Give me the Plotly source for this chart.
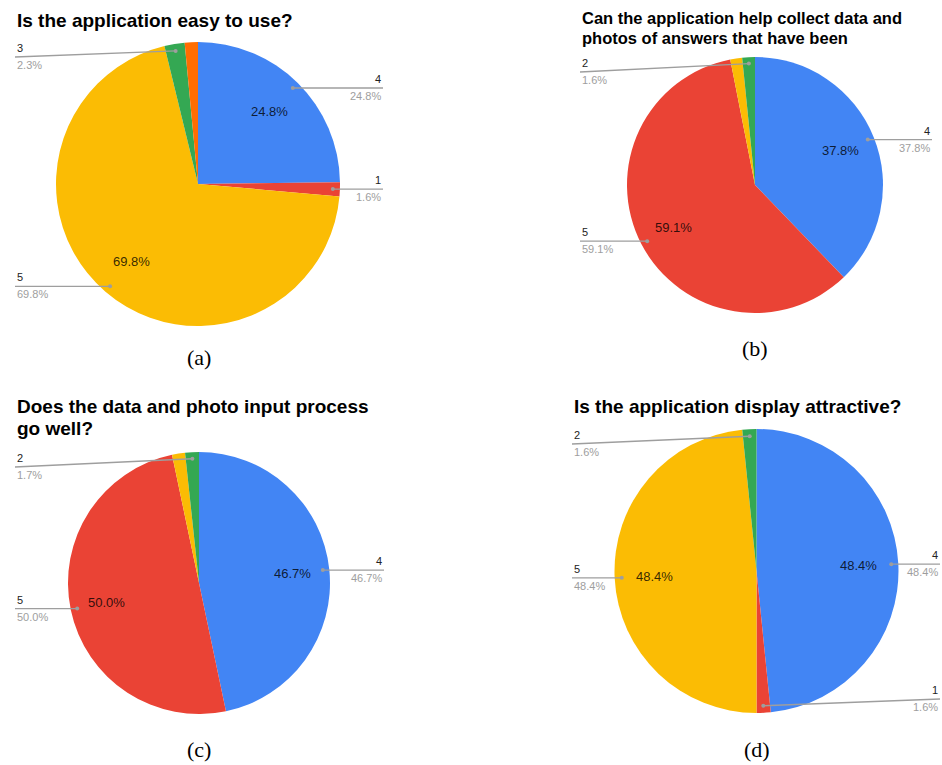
import math
import plotly.graph_objects as go

W, H = 942, 765

BLUE = "#4285F4"
RED = "#EA4335"
YELLOW = "#FBBC04"
GREEN = "#34A853"
ORANGE = "#FF6D01"

# ---------------- data ----------------
title_a = ["Is the application easy to use?"]
labels_a = ["4", "1", "5", "3", "2"]
values_a = [24.8, 1.6, 69.8, 2.3, 1.5]
colors_a = [BLUE, RED, YELLOW, GREEN, ORANGE]
callouts_a = ["4", "1", "5", "3"]

title_b = ["Can the application help collect data and", "photos of answers that have been"]
labels_b = ["4", "5", "3", "2"]
values_b = [37.8, 59.1, 1.5, 1.6]
colors_b = [BLUE, RED, YELLOW, GREEN]
callouts_b = ["4", "5", "2"]

title_c = ["Does the data and photo input process", "go well?"]
labels_c = ["4", "5", "3", "2"]
values_c = [46.7, 50.0, 1.6, 1.7]
colors_c = [BLUE, RED, YELLOW, GREEN]
callouts_c = ["4", "5", "2"]

title_d = ["Is the application display attractive?"]
labels_d = ["4", "1", "5", "2"]
values_d = [48.4, 1.6, 48.4, 1.6]
colors_d = [BLUE, RED, YELLOW, GREEN]
callouts_d = ["4", "1", "5", "2"]

captions = ["(a)", "(b)", "(c)", "(d)"]

# ---------------- layout config (window pixels) ----------------
panels = [
    dict(title=title_a, labels=labels_a, values=values_a, colors=colors_a, callouts=callouts_a,
         cx=198, cy=184, r=142, lx=15, rx=383, tx=15, ty=[20], tsize=19, cap=(199, 357)),
    dict(title=title_b, labels=labels_b, values=values_b, colors=colors_b, callouts=callouts_b,
         cx=755, cy=185, r=128, lx=580, rx=932, tx=580, ty=[17.5, 37.5], tsize=16.5, cap=(755, 349)),
    dict(title=title_c, labels=labels_c, values=values_c, colors=colors_c, callouts=callouts_c,
         cx=199, cy=583, r=131, lx=15, rx=384, tx=15, ty=[406, 428], tsize=19, cap=(199, 749)),
    dict(title=title_d, labels=labels_d, values=values_d, colors=colors_d, callouts=callouts_d,
         cx=756.5, cy=571, r=142, lx=572, rx=940, tx=572, ty=[406], tsize=19, cap=(757, 749)),
]


def px(x):
    return x / W


def py(y):
    return 1 - y / H


fig = go.Figure()
annotations = []
shapes = []

LABEL_FONT = "Liberation Sans, Arial, sans-serif"

for i, p in enumerate(panels):
    cx, cy, r = p["cx"], p["cy"], p["r"]
    fig.add_trace(go.Pie(
        labels=p["labels"], values=p["values"],
        marker=dict(colors=p["colors"], line=dict(width=0)),
        sort=False, direction="clockwise", rotation=0,
        textinfo="none", hoverinfo="label+percent",
        showlegend=False,
        domain=dict(x=[px(cx - r), px(cx + r)], y=[py(cy + r), py(cy - r)]),
    ))

    total = sum(p["values"])
    cum = 0.0
    for lab, v in zip(p["labels"], p["values"]):
        mid = (cum + v / 2) / total * 2 * math.pi
        cum += v
        pct = f"{v / total * 100:.1f}%"
        s, c = math.sin(mid), math.cos(mid)
        # inside percentage
        if v / total >= 0.05:
            ix, iy = cx + 0.72 * r * s, cy - 0.72 * r * c
            annotations.append(dict(x=px(ix), y=py(iy), xref="paper", yref="paper",
                                    text=pct, showarrow=False, xanchor="center", yanchor="middle",
                                    font=dict(family=LABEL_FONT, size=13, color="rgba(0,0,0,0.8)")))
        if lab in p["callouts"]:
            dx, dy = cx + 0.95 * r * s, cy - 0.95 * r * c
            ly = min(max(dy, cy - r + 15), cy + r - 14)
            if s > 0:
                ex, anchor = p["rx"], "right"
            else:
                ex, anchor = p["lx"], "left"
            shapes.append(dict(type="line", xref="paper", yref="paper",
                               x0=px(dx), y0=py(dy), x1=px(ex), y1=py(ly),
                               line=dict(color="#9e9e9e", width=1.3)))
            shapes.append(dict(type="circle", xref="paper", yref="paper",
                               x0=px(dx - 2), x1=px(dx + 2), y0=py(dy + 2), y1=py(dy - 2),
                               fillcolor="#9e9e9e", line=dict(width=0)))
            annotations.append(dict(x=px(ex), y=py(ly - 9), xref="paper", yref="paper",
                                    text=lab, showarrow=False, xanchor=anchor, yanchor="middle",
                                    font=dict(family=LABEL_FONT, size=11, color="#222222")))
            annotations.append(dict(x=px(ex), y=py(ly + 8), xref="paper", yref="paper",
                                    text=pct, showarrow=False, xanchor=anchor, yanchor="middle",
                                    font=dict(family=LABEL_FONT, size=11, color="#9e9e9e")))

    # titles
    for line, ty in zip(p["title"], p["ty"]):
        annotations.append(dict(x=px(p["tx"]), y=py(ty), xref="paper", yref="paper",
                                text=f"<b>{line}</b>", showarrow=False, xanchor="left", yanchor="middle",
                                font=dict(family=LABEL_FONT, size=p["tsize"], color="#000000")))
    # caption
    annotations.append(dict(x=px(p["cap"][0]), y=py(p["cap"][1]), xref="paper", yref="paper",
                            text=captions[i], showarrow=False, xanchor="center", yanchor="middle",
                            font=dict(family="Liberation Serif, Times New Roman, serif", size=22,
                                      color="#000000")))

fig.update_layout(
    width=W, height=H,
    margin=dict(l=0, r=0, t=0, b=0),
    paper_bgcolor="white", plot_bgcolor="white",
    annotations=annotations, shapes=shapes,
)

fig.write_html(
    "out.html",
    config={"displayModeBar": False},
    post_script="document.body.style.margin='0';document.body.style.overflow='hidden';",
)
